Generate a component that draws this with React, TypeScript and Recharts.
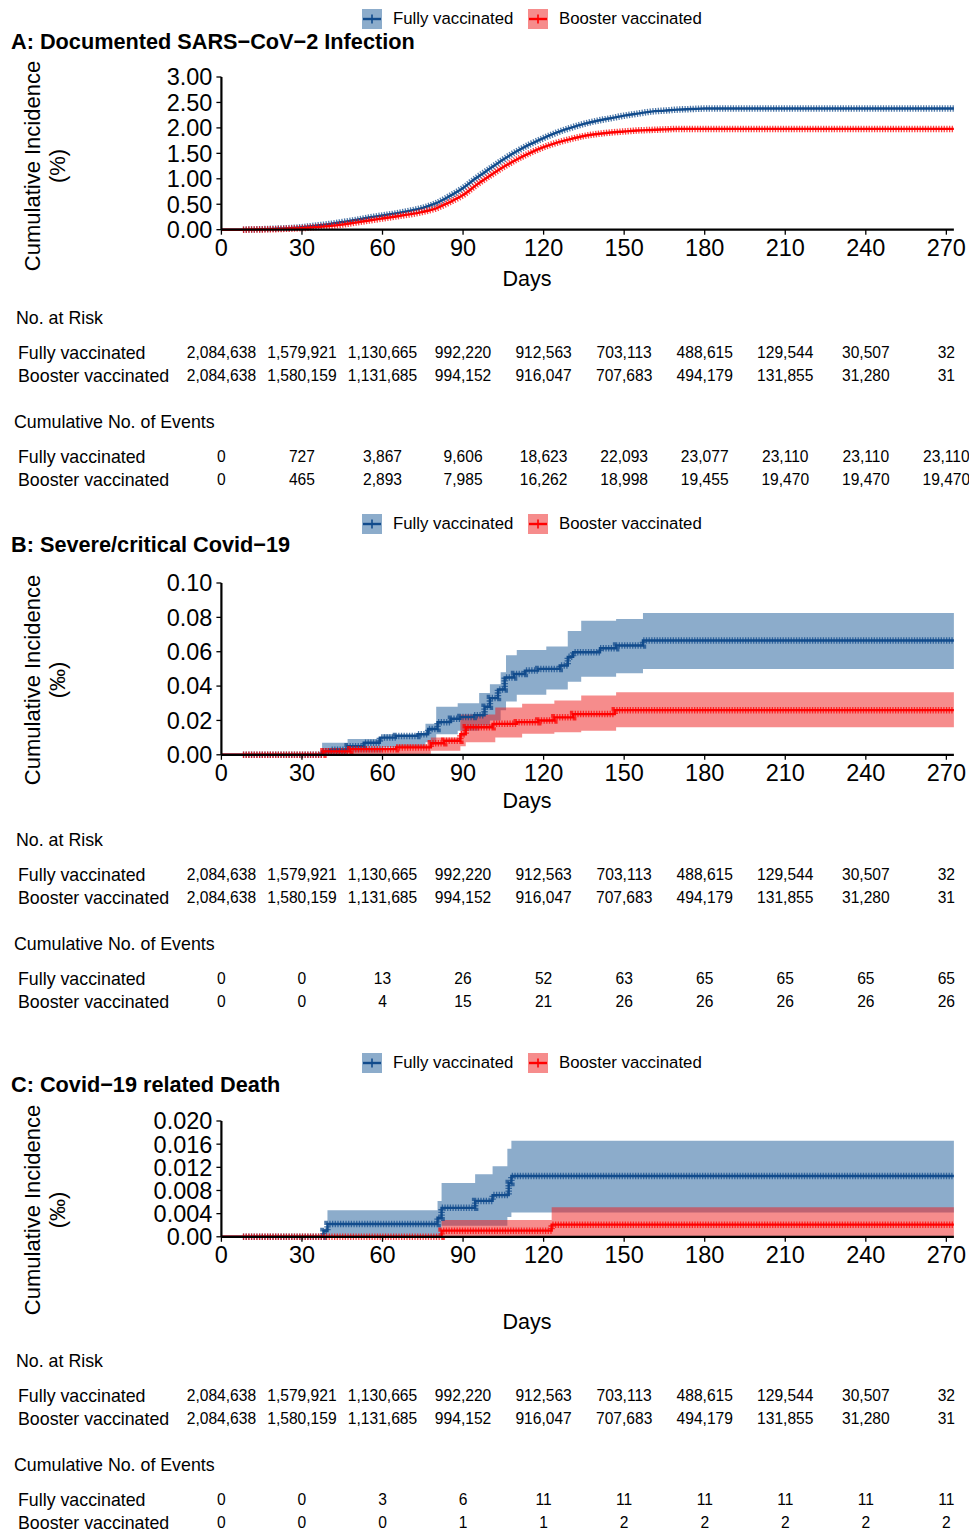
import React from 'react'
import { Area, ComposedChart, Line, XAxis, YAxis } from 'recharts'

/* Cumulative incidence curves (fully vs booster vaccinated) for three outcomes,
   each with its own risk table underneath. */

const FONT = '"Liberation Sans", Arial, Helvetica, sans-serif'
const BLUE = '#114B8C'
const BLUE_BAND = '#1A5A98'
const RED = '#FF0000'
const RED_BAND = '#EE1A1A'

const X_MAX = 272.8
const PLOT_LEFT = 221.4
const PLOT_RIGHT = 953.9
const CENSOR_FROM = 8

const DAY_TICKS = [0, 30, 60, 90, 120, 150, 180, 210, 240, 270]
const GROUPS = ['Fully vaccinated', 'Booster vaccinated']

const RISK_FULLY = ['2,084,638', '1,579,921', '1,130,665', '992,220', '912,563', '703,113', '488,615', '129,544', '30,507', '32']
const RISK_BOOSTER = ['2,084,638', '1,580,159', '1,131,685', '994,152', '916,047', '707,683', '494,179', '131,855', '31,280', '31']

// A: documented infection, %
const infectionFully: [number, number][] = [
  [0, 0], [8, 0], [15, 0.01], [20, 0.02], [25, 0.03], [30, 0.05], [35, 0.08], [40, 0.11], [45, 0.15],
  [50, 0.19], [55, 0.24], [60, 0.28], [65, 0.32], [70, 0.37], [75, 0.43], [80, 0.52], [85, 0.66],
  [90, 0.82], [95, 1.02], [100, 1.2], [105, 1.38], [110, 1.54], [115, 1.68], [120, 1.8], [125, 1.91],
  [130, 2.0], [135, 2.08], [140, 2.14], [145, 2.19], [150, 2.24], [155, 2.28], [160, 2.32], [165, 2.34],
  [170, 2.36], [175, 2.37], [180, 2.38], [272.8, 2.38],
]
const infectionBooster: [number, number][] = [
  [0, 0], [8, 0], [15, 0.005], [20, 0.01], [25, 0.02], [30, 0.03], [35, 0.05], [40, 0.07], [45, 0.1],
  [50, 0.14], [55, 0.18], [60, 0.22], [65, 0.26], [70, 0.3], [75, 0.35], [80, 0.42], [85, 0.54],
  [90, 0.68], [95, 0.88], [100, 1.06], [105, 1.23], [110, 1.38], [115, 1.51], [120, 1.62], [125, 1.71],
  [130, 1.78], [135, 1.84], [140, 1.88], [145, 1.91], [150, 1.93], [155, 1.95], [160, 1.96], [165, 1.97],
  [170, 1.98], [272.8, 1.98],
]
const infectionEventsFully = ['0', '727', '3,867', '9,606', '18,623', '22,093', '23,077', '23,110', '23,110', '23,110']
const infectionEventsBooster = ['0', '465', '2,893', '7,985', '16,262', '18,998', '19,455', '19,470', '19,470', '19,470']

// B: severe/critical, ‰
const severeFully: [number, number][] = [
  [0, 0], [8, 0], [37.5, 0.002], [40.5, 0.003], [47, 0.005], [53, 0.007], [59, 0.01], [65, 0.011],
  [73, 0.012], [77, 0.015], [80.5, 0.019], [85.5, 0.021], [89, 0.022], [94, 0.023], [98, 0.028],
  [100, 0.033], [103, 0.038], [105.5, 0.045], [109, 0.047], [113, 0.049], [118, 0.05], [126, 0.052],
  [129, 0.057], [131, 0.0597], [141, 0.062], [147, 0.0636], [157, 0.0665], [272.8, 0.0665],
]
const severeFullyCI: [number, number, number][] = [
  [0, 0, 0], [37.5, 0, 0.007], [47, 0.0014, 0.0092], [60, 0.0043, 0.012], [76, 0.0073, 0.018],
  [80, 0.012, 0.028], [88, 0.014, 0.03], [96, 0.017, 0.036], [100, 0.02, 0.041], [104, 0.026, 0.048],
  [106, 0.031, 0.058], [110, 0.035, 0.061], [121, 0.038, 0.063], [129, 0.0425, 0.072],
  [134, 0.0455, 0.078], [147, 0.0475, 0.079], [157, 0.05, 0.0825], [272.8, 0.05, 0.0825],
]
const severeBooster: [number, number][] = [
  [0, 0], [8, 0], [38, 0.002], [48, 0.0033], [65, 0.0043], [78, 0.0067], [83, 0.0082], [89, 0.012],
  [91, 0.016], [101, 0.018], [110, 0.019], [118, 0.02], [124, 0.0218], [131, 0.0237], [146.5, 0.026],
  [272.8, 0.026],
]
const severeBoosterCI: [number, number, number][] = [
  [0, 0, 0], [38, 0, 0.004], [65, 0, 0.006], [78, 0.0024, 0.01], [89, 0.005, 0.0235],
  [91, 0.0073, 0.0235], [102, 0.0101, 0.0276], [112, 0.0122, 0.0297], [124, 0.0131, 0.0316],
  [134, 0.014, 0.0345], [147, 0.016, 0.0364], [272.8, 0.016, 0.0364],
]
const severeEventsFully = ['0', '0', '13', '26', '52', '63', '65', '65', '65', '65']
const severeEventsBooster = ['0', '0', '4', '15', '21', '26', '26', '26', '26', '26']

// C: death, ‰
const deathFully: [number, number][] = [
  [0, 0], [8, 0], [38, 0.001], [39.5, 0.0022], [80.5, 0.0033], [82, 0.005], [94.5, 0.0062],
  [101, 0.0072], [107, 0.0093], [108, 0.0105], [272.8, 0.0105],
]
const deathFullyCI: [number, number, number][] = [
  [0, 0, 0], [38, 0, 0.0014], [39.5, 0, 0.0046], [80.5, 0, 0.0062], [82, 0.0019, 0.0093],
  [94.5, 0.0019, 0.0108], [101, 0.0019, 0.0122], [106.5, 0.0034, 0.0152], [108, 0.0042, 0.0166],
  [272.8, 0.0042, 0.0166],
]
const deathBooster: [number, number][] = [
  [0, 0], [8, 0], [82, 0.00106], [123, 0.0021], [272.8, 0.0021],
]
const deathBoosterCI: [number, number, number][] = [
  [0, 0, 0], [82, 0, 0.0029], [123, 0, 0.0051], [272.8, 0, 0.0051],
]
const deathEventsFully = ['0', '0', '3', '6', '11', '11', '11', '11', '11', '11']
const deathEventsBooster = ['0', '0', '0', '1', '1', '2', '2', '2', '2', '2']

const dayToPx = (d: number) => PLOT_LEFT + (d / X_MAX) * (PLOT_RIGHT - PLOT_LEFT)
const toRows = (pts: [number, number][]) => pts.map(([day, v]) => ({ day, v }))
const toBand = (pts: [number, number, number][]) => pts.map(([day, lo, hi]) => ({ day, band: [lo, hi] }))

function Txt({ x, y, size, children, bold, center, lh = 24 }: {
  x: number; y: number; size: number; children: React.ReactNode; bold?: boolean; center?: boolean; lh?: number
}) {
  return (
    <div style={{
      position: 'absolute', left: x, top: y - lh / 2, lineHeight: `${lh}px`, fontSize: size,
      fontWeight: bold ? 700 : 400, whiteSpace: 'nowrap', color: '#000',
      transform: center ? 'translateX(-50%)' : undefined,
    }}>{children}</div>
  )
}

function Key({ x, y, band, line, label }: { x: number; y: number; band: string; line: string; label: string }) {
  return (
    <>
      <svg width={20} height={20} style={{ position: 'absolute', left: x, top: y - 10 }}>
        <rect x={0} y={0} width={20} height={20} fill={band} fillOpacity={0.5} />
        <line x1={1} x2={19} y1={10} y2={10} stroke={line} strokeWidth={2.4} />
        <line x1={10} x2={10} y1={5.5} y2={14.5} stroke={line} strokeWidth={1.6} />
      </svg>
      <Txt x={x + 31} y={y} size={16.8}>{label}</Txt>
    </>
  )
}

// censor "+" marks show up as a dense hatch along the curve
function Curve({ data, color, type }: { data: { day: number; v: number }[]; color: string; type: 'monotone' | 'stepAfter' }) {
  return [
    <Line key="c" data={data.filter((d) => d.day >= CENSOR_FROM)} dataKey="v" type={type} stroke={color}
          strokeWidth={6.5} strokeDasharray="1.3 1.38" strokeOpacity={0.75} dot={false} activeDot={false}
          isAnimationActive={false} />,
    <Line key="l" data={data} dataKey="v" type={type} stroke={color} strokeWidth={2.4}
          dot={false} activeDot={false} isAnimationActive={false} />,
  ]
}

interface PanelProps {
  title: string
  unit: string
  legendY: number
  titleY: number
  plotTop: number
  plotBottom: number
  daysY: number
  yLabelY: number
  tableY: number
  yMax: number
  yTicks: number[]
  fmt: (v: number) => string
  type: 'monotone' | 'stepAfter'
  fully: [number, number][]
  booster: [number, number][]
  fullyCI?: [number, number, number][]
  boosterCI?: [number, number, number][]
  eventsFully: string[]
  eventsBooster: string[]
}

function Panel(p: PanelProps) {
  const chartTop = p.plotTop - 12
  const height = p.plotBottom - chartTop + 40
  const numRow = (vals: string[], y: number) =>
    vals.map((s, i) => <Txt key={i} x={dayToPx(DAY_TICKS[i])} y={y} size={15.6} center>{s}</Txt>)
  const t = p.tableY
  return (
    <>
      <Key x={362} y={p.legendY} band={BLUE_BAND} line={BLUE} label={GROUPS[0]} />
      <Key x={528} y={p.legendY} band={RED_BAND} line={RED} label={GROUPS[1]} />
      <Txt x={11} y={p.titleY} size={21.7} bold>{p.title}</Txt>
      <div style={{
        position: 'absolute', left: 33, top: p.yLabelY, transform: 'translate(-50%, -50%) rotate(-90deg)',
        fontSize: 22, whiteSpace: 'nowrap', lineHeight: '24px',
      }}>Cumulative Incidence</div>
      <div style={{
        position: 'absolute', left: 58, top: p.yLabelY, transform: 'translate(-50%, -50%) rotate(-90deg)',
        fontSize: 22, whiteSpace: 'nowrap', lineHeight: '24px',
      }}>{p.unit}</div>
      <div style={{ position: 'absolute', left: 0, top: chartTop }}>
        <ComposedChart width={969} height={height}
                       margin={{ top: p.plotTop - chartTop, right: 969 - PLOT_RIGHT, bottom: 0, left: 0 }}>
          <XAxis type="number" dataKey="day" domain={[0, X_MAX]} ticks={DAY_TICKS} interval={0} height={40}
                 tick={{ fill: '#000', fontSize: 23.5, fontFamily: FONT }} tickSize={5} tickMargin={5}
                 axisLine={{ stroke: '#000', strokeWidth: 2.2 }} tickLine={{ stroke: '#000', strokeWidth: 1.3 }} />
          <YAxis type="number" domain={[0, p.yMax]} ticks={p.yTicks} interval={0} width={PLOT_LEFT}
                 tickFormatter={p.fmt} tick={{ fill: '#000', fontSize: 23.5, fontFamily: FONT }}
                 tickSize={5} tickMargin={4}
                 axisLine={{ stroke: '#000', strokeWidth: 2.2 }} tickLine={{ stroke: '#000', strokeWidth: 1.3 }} />
          {p.fullyCI && (
            <Area data={toBand(p.fullyCI)} dataKey="band" type="stepAfter" stroke="none" fill={BLUE_BAND}
                  fillOpacity={0.5} dot={false} activeDot={false} isAnimationActive={false} />
          )}
          {p.boosterCI && (
            <Area data={toBand(p.boosterCI)} dataKey="band" type="stepAfter" stroke="none" fill={RED_BAND}
                  fillOpacity={0.5} dot={false} activeDot={false} isAnimationActive={false} />
          )}
          {Curve({ data: toRows(p.fully), color: BLUE, type: p.type })}
          {Curve({ data: toRows(p.booster), color: RED, type: p.type })}
        </ComposedChart>
      </div>
      <Txt x={527} y={p.daysY} size={21.5} center>Days</Txt>
      <Txt x={16} y={t} size={17.8}>No. at Risk</Txt>
      <Txt x={18} y={t + 35} size={17.8}>{GROUPS[0]}</Txt>
      <Txt x={18} y={t + 58} size={17.8}>{GROUPS[1]}</Txt>
      {numRow(RISK_FULLY, t + 35)}
      {numRow(RISK_BOOSTER, t + 58)}
      <Txt x={14} y={t + 104} size={17.8}>Cumulative No. of Events</Txt>
      <Txt x={18} y={t + 139} size={17.8}>{GROUPS[0]}</Txt>
      <Txt x={18} y={t + 162} size={17.8}>{GROUPS[1]}</Txt>
      {numRow(p.eventsFully, t + 139)}
      {numRow(p.eventsBooster, t + 162)}
    </>
  )
}

export default function App() {
  return (
    <div style={{
      position: 'absolute', left: 0, top: 0, width: 969, height: 1533, background: '#fff',
      fontFamily: FONT, overflow: 'hidden',
    }}>
      <Panel title="A: Documented SARS−CoV−2 Infection" unit="(%)" legendY={19} titleY={42}
             plotTop={77.3} plotBottom={230} daysY={279} yLabelY={166} tableY={318}
             yMax={3} yTicks={[0, 0.5, 1, 1.5, 2, 2.5, 3]} fmt={(v) => v.toFixed(2)} type="monotone"
             fully={infectionFully} booster={infectionBooster}
             eventsFully={infectionEventsFully} eventsBooster={infectionEventsBooster} />
      <Panel title="B: Severe/critical Covid−19" unit="(‰)" legendY={524} titleY={545}
             plotTop={582.7} plotBottom={754.5} daysY={801} yLabelY={680} tableY={840}
             yMax={0.1} yTicks={[0, 0.02, 0.04, 0.06, 0.08, 0.1]} fmt={(v) => v.toFixed(2)} type="stepAfter"
             fully={severeFully} booster={severeBooster} fullyCI={severeFullyCI} boosterCI={severeBoosterCI}
             eventsFully={severeEventsFully} eventsBooster={severeEventsBooster} />
      <Panel title="C: Covid−19 related Death" unit="(‰)" legendY={1063} titleY={1085}
             plotTop={1120.7} plotBottom={1236.5} daysY={1322} yLabelY={1210} tableY={1361}
             yMax={0.02} yTicks={[0, 0.004, 0.008, 0.012, 0.016, 0.02]}
             fmt={(v) => (v === 0 ? '0.00' : v.toFixed(3))} type="stepAfter"
             fully={deathFully} booster={deathBooster} fullyCI={deathFullyCI} boosterCI={deathBoosterCI}
             eventsFully={deathEventsFully} eventsBooster={deathEventsBooster} />
    </div>
  )
}
